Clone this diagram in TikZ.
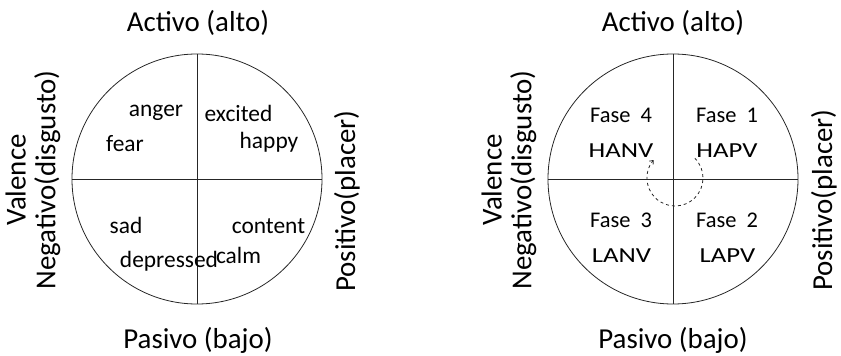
\documentclass[tikz,border=0pt]{standalone}
\usepackage{fontspec}
\setmainfont{Carlito}
\usetikzlibrary{arrows.meta,calc}
\newcommand\widen[2]{\scalebox{#1}[1]{#2}}
\begin{document}
\begin{tikzpicture}[x=1bp,y=1bp,
  circ/.style={draw=black!85,line width=0.8pt,circle,minimum size=250bp,inner sep=0pt},
  axis/.style={draw=black!85,line width=0.8pt},
  big/.style={font=\fontsize{29}{30}\selectfont,inner sep=0pt},
  word/.style={font=\fontsize{23.5}{26}\selectfont,anchor=base,inner sep=0pt},
  fase/.style={font=\fontsize{22.5}{26}\selectfont,anchor=base,inner sep=0pt},
  code/.style={font=\fontsize{21.5}{26}\selectfont,anchor=base,inner sep=0pt},
  cyc/.style={draw=black!85,line width=0.8pt,dash pattern=on 3bp off 3bp,-{Straight Barb[length=3bp,width=5bp]}}]
\useasboundingbox (0,0) rectangle (841,355);
% ---- left diagram ----
\node[circ] (L) at (197,176) {};
\draw[axis] (L.north) -- (L.south);
\draw[axis] (L.west) -- (L.east);
\node[big,anchor=base] (La) at (198,324) {Activo (alto)};
\node[big,anchor=base] (Lp) at (198,7) {Pasivo (bajo)};
\node[big,rotate=90,align=center] (Ln) at (33,175) {Valence\\Negativo(disgusto)};
\node[big,rotate=90] (Lpos) at (347,154) {Positivo(placer)};
\node[word] (w1) at (156,239) {anger};
\node[word] (w2) at (125,204) {fear};
\node[word] (w3) at (238.5,234) {excited};
\node[word] (w4) at (269,207) {happy};
\node[word] (w5) at (126,122) {sad};
\node[word] (w6) at (268.5,122) {content};
\node[word] (w7) at (169,88) {depressed};
\node[word] (w8) at (238.5,92) {calm};
% ---- right diagram ----
\node[circ] (R) at (673,176) {};
\draw[axis] (R.north) -- (R.south);
\draw[axis] (R.west) -- (R.east);
\node[big,anchor=base] (Ra) at (673,324) {Activo (alto)};
\node[big,anchor=base] (Rp) at (673,7) {Pasivo (bajo)};
\node[big,rotate=90,align=center] (Rn) at (509,175) {Valence\\Negativo(disgusto)};
\node[big,rotate=90] (Rpos) at (824,155) {Positivo(placer)};
\node[fase] (f4) at (621,233) {Fase\ \ 4};
\node[fase] (f1) at (727,233) {Fase\ \ 1};
\node[fase] (f3) at (621,128) {Fase\ \ 3};
\node[fase] (f2) at (727,128) {Fase\ \ 2};
\node[code] (c4) at (621,198) {\widen{1.25}{HANV}};
\node[code] (c1) at (727,198) {\widen{1.25}{HAPV}};
\node[code] (c3) at (621.5,93) {\widen{1.25}{LANV}};
\node[code] (c2) at (727.5,93) {\widen{1.25}{LAPV}};
\coordinate (cc) at (675,177);
\draw[cyc] ($(cc)+(45:28)$) arc[start angle=45,end angle=-220,radius=28];
\end{tikzpicture}
\end{document}
